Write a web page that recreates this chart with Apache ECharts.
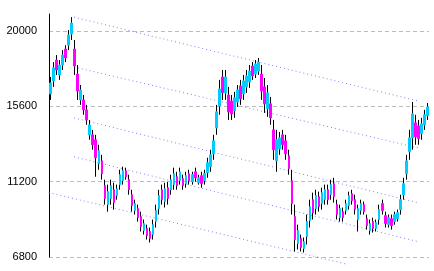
<!DOCTYPE html>
<html>
<head>
<meta charset="utf-8">
<script src="https://cdn.jsdelivr.net/npm/echarts@6/dist/echarts.min.js"></script>
<style>html,body{margin:0;padding:0;background:#fff}#c{width:434px;height:271px}</style>
</head>
<body>
<div id="c"></div>
<script>
// OHLC values (one candle per period)
const openVals = [16330,17090,18310,17440,18020,18950,19180,19830,18950,17490,15980,15980,15400,13940,13940,13650,12250,12420,10970,9860,10210,10730,10390,11030,11260,11840,11320,10440,9510,9630,9160,8350,8460,8290,8110,8870,9630,10730,10040,10850,10730,11030,11490,11260,11380,11080,11670,11200,11780,11140,11550,11260,11730,12080,12830,14350,15630,17320,16390,16270,15920,15340,15860,16800,16330,16740,17030,17960,17490,17670,17490,16740,15460,15750,14230,12420,13120,13940,13590,12720,11260,9160,7590,7880,7300,8000,8930,10150,9630,10330,9920,10150,10730,10440,11080,9860,9100,9450,9510,9800,10500,10150,8990,9510,9860,9040,8350,8870,8460,8990,9920,9220,8690,9040,8870,9040,9570,10440,11670,12950,13760,14640,14460,14000,14520,15050];
const closeVals = [16970,17850,17730,18020,18600,18430,19770,20470,17960,16500,16560,15400,14810,14520,13360,12600,13010,11670,10210,10620,10970,9980,10790,11610,11840,11490,10730,9800,9920,9100,8580,8750,8050,7880,8690,9510,10390,10150,10790,10210,11320,11670,10970,11780,10970,11550,11260,11610,11430,11430,11080,11670,12310,12770,13590,15280,16620,16390,17320,15280,15160,16100,16560,16040,17090,17380,17670,17380,18080,18190,16500,15750,16390,14930,13070,13650,13760,13360,12830,11960,9920,7820,8350,7350,7700,8870,9740,9390,10390,9740,10560,10730,10150,11030,10330,9280,9630,9100,9920,10390,10090,9570,9630,9920,9450,8640,8750,8460,8810,9570,9510,8750,9100,8640,9280,9390,10150,11080,12420,13760,15160,13820,13710,14580,15110,15570];
const lowVals = [15980,16740,17440,17150,17730,18190,18890,19480,17440,15980,15690,15110,14520,13650,13070,11490,11900,11320,9860,9450,9860,9570,10150,10730,11030,11320,10440,9450,9280,8870,8290,8110,7820,7650,7820,8520,9280,9860,9690,9860,10440,10730,10730,11030,10730,10850,11030,11030,11200,11030,10850,11030,11430,11780,12480,13940,15110,15980,15980,14810,14810,14930,15570,15690,15980,16390,16680,17150,17260,17440,15980,15220,14990,14520,12480,11780,12770,13070,12480,11610,9280,7120,7240,7120,7060,7530,8520,8990,9280,9450,9570,9860,9860,10150,9980,8990,8870,8870,9280,9570,9860,9280,8290,9280,9280,8400,8110,8230,8290,8690,9280,8520,8520,8400,8690,8870,9280,10150,11320,12480,13070,13360,13360,13650,14230,14810];
const highVals = [17320,18190,18600,18310,18890,19180,20060,20820,19480,18020,16850,16270,15690,14810,14230,13940,13360,12770,11320,11030,11320,11140,11030,11900,12080,12020,11610,10730,10150,9860,9450,8990,8690,8520,8990,9860,10730,11030,11140,11200,11610,12020,11780,12020,11610,11780,11900,11780,12020,11610,11780,11900,12600,13070,13940,15690,17150,17730,17730,16740,16270,16450,16850,17150,17440,17730,18020,18190,18310,18430,18020,17260,16850,16150,14810,14230,14110,14230,13940,13070,11900,9860,8690,8110,7940,9280,10150,10560,10730,10620,10850,11030,11030,11320,11430,10150,9860,9690,10150,10620,10730,10440,9860,10150,10040,9280,8990,9100,8990,9860,10150,9450,9280,9280,9450,9570,10440,11430,12770,14230,15860,15110,14810,14930,15400,15800];

// y-axis tick labels
const yTicks = [6800, 11200, 15600, 20000];

// dotted channel lines: [period position, price] end points
const trend1 = [[8.29, 20816], [122.3, 15921]];
const trend2 = [[8.29, 17902], [122.3, 13182]];
const trend3 = [[8.29, 14930], [122.3, 9977]];
const trend4 = [[8.29, 12657], [122.3, 7703]];
const trend5 = [[-3.98, 10734], [99.1, 6363]];

const categories = openVals.map((_, i) => String(i + 1));
const full = openVals.map((o, i) => [o, closeVals[i], lowVals[i], highVals[i]]);
const bodies = openVals.map((o, i) => [o, closeVals[i], Math.min(o, closeVals[i]), Math.max(o, closeVals[i])]);

const chart = echarts.init(document.getElementById('c'), null, {renderer: 'canvas'});
const trendStyle = {color: '#7f7ff5', width: 1, type: [1, 3]};
const mkTrend = d => ({type: 'line', xAxisIndex: 1, data: d, symbol: 'none', silent: true, clip: false,
  lineStyle: trendStyle, z: 1, animation: false});
chart.setOption({
  animation: false,
  grid: {left: 49, right: 5, top: 14, bottom: 14, containLabel: false},
  xAxis: [
    {type: 'category', data: categories, show: false, boundaryGap: true},
    {type: 'value', min: 0, max: categories.length, show: false}
  ],
  yAxis: {
    type: 'value', min: 6800, max: 21000, interval: 4400,
    axisLine: {show: true, lineStyle: {color: '#000', width: 1}},
    axisTick: {show: false},
    axisLabel: {color: '#000', fontSize: 11, fontFamily: 'Liberation Sans, Arial, sans-serif', margin: 12,
      showMaxLabel: false,
      formatter: v => yTicks.includes(v) ? String(v) : ''},
    splitLine: {show: true, showMaxLine: false, lineStyle: {color: '#bbb', type: [4, 3], width: 1}}
  },
  series: [
    mkTrend(trend1), mkTrend(trend2), mkTrend(trend3), mkTrend(trend4), mkTrend(trend5),
    {type: 'candlestick', data: full, barWidth: 1, z: 2,
      itemStyle: {color: '#000', color0: '#000', borderColor: '#000', borderColor0: '#000', borderWidth: 1}},
    {type: 'candlestick', data: bodies, barWidth: 2, z: 3,
      itemStyle: {color: '#00ccff', color0: '#ff00ff', borderColor: '#00ccff', borderColor0: '#ff00ff', borderWidth: 1}}
  ]
});
</script>
</body>
</html>
